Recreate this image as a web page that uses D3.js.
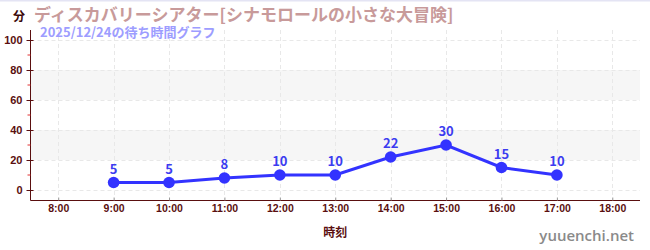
<!DOCTYPE html>
<html>
<head>
<meta charset="utf-8">
<script src="https://cdn.jsdelivr.net/npm/d3@7"></script>
<style>
  body { margin: 0; background: #fff; }
  svg { display: block; font-family: "Noto Sans CJK JP", "Noto Sans", sans-serif; }
</style>
</head>
<body>
<svg width="650" height="250"></svg>
<script>
const hours = [9, 10, 11, 12, 13, 14, 15, 16, 17];
const waits = [5, 5, 8, 10, 10, 22, 30, 15, 10];
const xTicks = [8, 9, 10, 11, 12, 13, 14, 15, 16, 17, 18];
const yTicks = [0, 20, 40, 60, 80, 100];
const yMinor = [10, 30, 50, 70, 90];
const bands = [[20, 40], [60, 80]];

const svg = d3.select("svg");
const plotLeft = 30.5, plotRight = 640, plotTop = 30, plotBottom = 200.5;

const x = d3.scaleLinear().domain([7.5, 18.5]).range([plotLeft, plotRight]);
const y = d3.scaleLinear().domain([0, 100]).range([190, 40]);

// top border
svg.append("rect").attr("x", 0).attr("y", 0).attr("width", 650).attr("height", 1.5).attr("fill", "#e4e4f4");

// bands
svg.append("g")
  .selectAll("rect")
  .data(bands)
  .enter()
  .append("rect")
  .attr("x", plotLeft)
  .attr("width", plotRight - plotLeft)
  .attr("y", (d) => y(d[1]))
  .attr("height", (d) => y(d[0]) - y(d[1]))
  .attr("fill", "#f6f6f6");

// grid
const grid = svg.append("g").attr("stroke", "#e8e8e8").attr("stroke-dasharray", "4,3").attr("stroke-width", 1);
grid.selectAll(".h")
  .data(yTicks)
  .enter()
  .append("line")
  .attr("x1", plotLeft).attr("x2", plotRight)
  .attr("y1", (d) => Math.round(y(d)) + 0.5).attr("y2", (d) => Math.round(y(d)) + 0.5);
grid.selectAll(".v")
  .data(xTicks)
  .enter()
  .append("line")
  .attr("y1", plotTop).attr("y2", plotBottom)
  .attr("x1", (d) => Math.round(x(d)) + 0.5).attr("x2", (d) => Math.round(x(d)) + 0.5);

const axisColor = "#5a0f0f";

// y axis
const yAxis = svg.append("g")
  .attr("transform", `translate(${plotLeft},0)`)
  .call(d3.axisLeft(y).tickValues(yTicks).tickSize(5).tickPadding(3));
yAxis.select(".domain").attr("d", `M0,${plotTop}V${plotBottom}`);
yAxis.selectAll("line, path").attr("stroke", axisColor);
yAxis.selectAll("text").attr("fill", axisColor).attr("font-size", 11).attr("font-weight", "bold");
yAxis.selectAll(".tick line").attr("x1", 3).attr("x2", -4);

svg.append("g")
  .selectAll("line")
  .data(yMinor)
  .enter()
  .append("line")
  .attr("x1", plotLeft - 3).attr("x2", plotLeft)
  .attr("y1", (d) => y(d)).attr("y2", (d) => y(d))
  .attr("stroke", "#e03030");

// x axis
const xAxis = svg.append("g")
  .attr("transform", `translate(0,${plotBottom})`)
  .call(d3.axisBottom(x).tickValues(xTicks).tickFormat((d) => `${d}:00`).tickSize(0).tickPadding(4));
xAxis.select(".domain").attr("d", `M${plotLeft},0H${plotRight}`);
xAxis.selectAll("path").attr("stroke", axisColor);
xAxis.selectAll(".tick line").attr("y1", -3).attr("y2", 0).attr("stroke", "#999");
xAxis.selectAll("text").attr("fill", axisColor).attr("font-size", 10.5).attr("font-weight", "bold");

svg.append("text").attr("x", (plotLeft + plotRight) / 2).attr("y", 237)
  .attr("text-anchor", "middle").attr("font-size", 12).attr("font-weight", "bold")
  .attr("fill", axisColor).text("時刻");

// line + points
const pts = hours.map((h, i) => ({ h, v: waits[i] }));
const line = d3.line().x((d) => x(d.h)).y((d) => y(d.v));
svg.append("path").datum(pts).attr("d", line)
  .attr("fill", "none").attr("stroke", "#3333ff").attr("stroke-width", 3);

const nodes = svg.append("g").selectAll("g").data(pts).enter().append("g")
  .attr("transform", (d) => `translate(${x(d.h)},${y(d.v)})`);
nodes.append("circle").attr("r", 5.8).attr("fill", "#3333ff");
nodes.append("text").text((d) => d.v)
  .attr("y", -9).attr("text-anchor", "middle")
  .attr("font-size", 13).attr("font-weight", "bold").attr("fill", "#3c3cf0");

// titles
svg.append("text").attr("x", 13).attr("y", 20.5).attr("font-size", 12).attr("font-weight", "bold")
  .attr("fill", "#3a0808").text("分");
svg.append("text").attr("x", 34).attr("y", 20.5).attr("font-size", 17).attr("font-weight", "bold")
  .attr("fill", "#c89a9a").text("ディスカバリーシアター[シナモロールの小さな大冒険]");
svg.append("text").attr("x", 40).attr("y", 37).attr("font-size", 13).attr("font-weight", "bold")
  .attr("fill", "#9d9dff").text("2025/12/24の待ち時間グラフ");

svg.append("text").attr("x", 634).attr("y", 241).attr("text-anchor", "end")
  .attr("font-size", 15).attr("font-family", "Open Sans, sans-serif").attr("font-weight", 600)
  .attr("fill", "#8a8a8a").text("yuuenchi.net");
</script>
</body>
</html>
